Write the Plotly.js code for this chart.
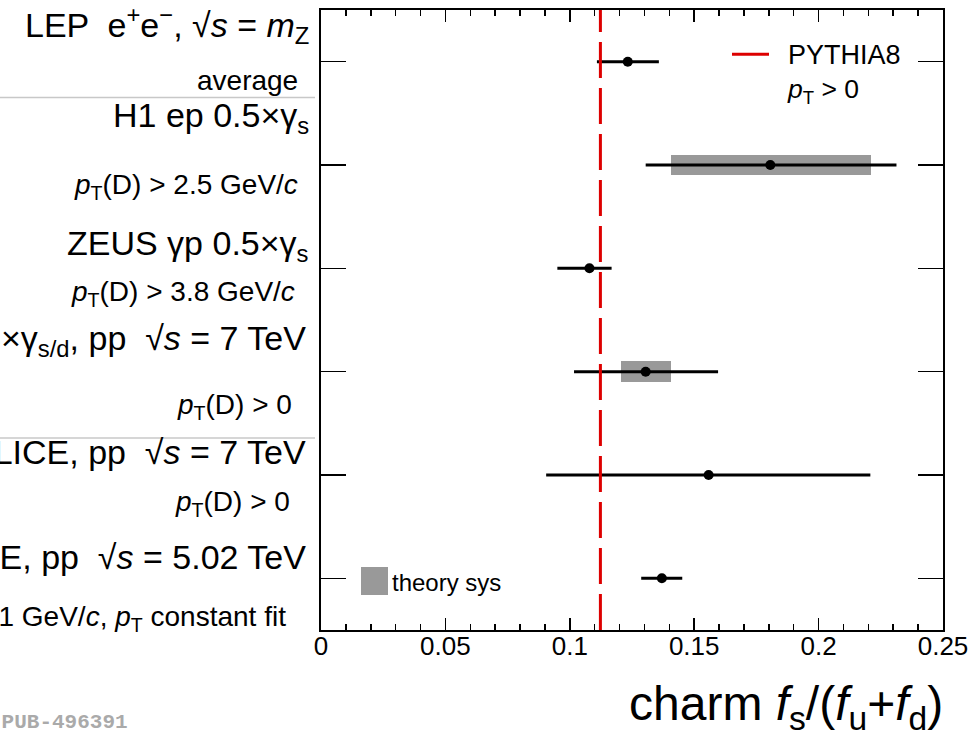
<!DOCTYPE html>
<html><head><meta charset="utf-8">
<script src="https://cdn.plot.ly/plotly-3.0.1.min.js"></script>
<style>html,body{margin:0;padding:0;background:#fff;} #chart{width:971px;height:736px;}</style>
</head><body><div id="chart"></div>
<script>
// ---- data ----
const rowLabels = [
  'LEP  e<sup>+</sup>e<sup>−</sup>, √<i>s</i> = <i>m</i><sub>Z</sub>',
  'H1 ep 0.5×γ<sub>s</sub>',
  'ZEUS γp 0.5×γ<sub>s</sub>',
  'ALICE 0.5×γ<sub>s/d</sub>, pp  √<i>s</i> = 7 TeV',
  'ALICE, pp  √<i>s</i> = 7 TeV',
  'ALICE, pp  √<i>s</i> = 5.02 TeV'
];
const rowSubLabels = [
  'average',
  '<i>p</i><sub>T</sub>(D) > 2.5 GeV/<i>c</i>',
  '<i>p</i><sub>T</sub>(D) > 3.8 GeV/<i>c</i>',
  '<i>p</i><sub>T</sub>(D) > 0',
  '<i>p</i><sub>T</sub>(D) > 0',
  '<i>p</i><sub>T</sub> > 1 GeV/<i>c</i>, <i>p</i><sub>T</sub> constant fit'
];
const rowIndex = [0, 1, 2, 3, 4, 5];
const fsValues = [0.1233, 0.1806, 0.1079, 0.1305, 0.1558, 0.1370];
const errPlus  = [0.0125, 0.0507, 0.0089, 0.0291, 0.0650, 0.0082];
const errMinus = [0.0124, 0.0501, 0.0129, 0.0288, 0.0653, 0.0083];
const theoryLow  = [null, 0.1405, null, 0.1204, null, null];
const theoryHigh = [null, 0.2212, null, 0.1408, null, null];
const pythia8 = 0.1123;
const xTickVals = [0, 0.05, 0.1, 0.15, 0.2, 0.25];
const xTickText = ['0', '0.05', '0.1', '0.15', '0.2', '0.25'];

// ---- layout helpers (pixel -> paper) ----
const L = 321, T = 10, W = 622, H = 620;
const px2x = p => (p - L) / W;
const py2y = p => (T + H - p) / H;

const FONT = 'Liberation Sans, Arial, Helvetica, sans-serif';

// theory band as horizontal bars
const sysY = [], sysBase = [], sysLen = [];
rowIndex.forEach(i => {
  if (theoryLow[i] !== null) { sysY.push(i); sysBase.push(theoryLow[i]); sysLen.push(theoryHigh[i] - theoryLow[i]); }
});

const traces = [
  {
    type: 'bar', orientation: 'h', y: sysY, x: sysLen, base: sysBase, width: 0.2,
    marker: {color: '#999999', line: {width: 0}}, hoverinfo: 'skip', showlegend: false
  },
  {
    type: 'scatter', mode: 'markers', x: fsValues, y: rowIndex,
    marker: {color: '#000', size: 10},
    error_x: {type: 'data', symmetric: false, array: errPlus, arrayminus: errMinus,
              color: '#000', thickness: 3, width: 0},
    showlegend: false
  }
];

// label positions (pixel layout)
const bigRight = [310, 310, 310, 307, 307, 307];
const bigCenter = [25, 117.3, 245, 340.7, 452.3, 557.3];
const subRight = [299, 299, 296, 293, 291, 287];
const subCenter = [81, 186.5, 294, 406.5, 503.5, 618.5];

const annotations = [];
rowIndex.forEach(i => {
  annotations.push({xref: 'paper', yref: 'paper', x: px2x(bigRight[i]), y: py2y(bigCenter[i]),
    xanchor: 'right', yanchor: 'middle', showarrow: false, text: rowLabels[i], borderpad: 0,
    font: {family: FONT, size: 34, color: '#000'}});
  annotations.push({xref: 'paper', yref: 'paper', x: px2x(subRight[i]), y: py2y(subCenter[i]),
    xanchor: 'right', yanchor: 'middle', showarrow: false, text: rowSubLabels[i], borderpad: 0,
    font: {family: FONT, size: 28, color: '#000'}});
});
annotations.push({xref: 'paper', yref: 'paper', x: px2x(786), y: py2y(54.5), xanchor: 'left', yanchor: 'middle',
  showarrow: false, text: 'PYTHIA8', font: {family: FONT, size: 27, color: '#000'}});
annotations.push({xref: 'paper', yref: 'paper', x: px2x(785), y: py2y(91), xanchor: 'left', yanchor: 'middle',
  showarrow: false, text: '<i>p</i><sub>T</sub> > 0', font: {family: FONT, size: 26.5, color: '#000'}});
annotations.push({xref: 'paper', yref: 'paper', x: px2x(390), y: py2y(582), xanchor: 'left', yanchor: 'middle',
  showarrow: false, text: 'theory sys', font: {family: FONT, size: 24, color: '#000'}});
annotations.push({xref: 'paper', yref: 'paper', x: px2x(944), y: py2y(707), xanchor: 'right', yanchor: 'middle',
  showarrow: false, text: 'charm <i>f</i><sub>s</sub>/(<i>f</i><sub>u</sub>+<i>f</i><sub>d</sub>)', borderpad: 0,
  font: {family: FONT, size: 48, color: '#000'}});
annotations.push({xref: 'paper', yref: 'paper', x: px2x(130), y: py2y(722.5), xanchor: 'right', yanchor: 'middle',
  showarrow: false, text: '<b>ALICE-PUB-496391</b>', font: {family: 'Liberation Mono, Courier New, monospace', size: 21, color: '#aaaaaa'}});

const shapes = [
  {type: 'line', xref: 'x', yref: 'paper', x0: pythia8, x1: pythia8, y0: 0, y1: 1,
   line: {color: '#dd0000', width: 3, dash: '36px,10px'}},
  {type: 'line', xref: 'paper', yref: 'paper', x0: px2x(732), x1: px2x(769), y0: py2y(54.3), y1: py2y(54.3),
   line: {color: '#dd0000', width: 3}},
  {type: 'path', xref: 'paper', yref: 'paper', fillcolor: '#999999', line: {width: 0},
   path: (function(){
     const x0 = px2x(361), x1 = px2x(388), y0 = py2y(595), y1 = py2y(567);
     return `M ${x0} ${y0} L ${x1} ${y0} L ${x1} ${y1} L ${x0} ${y1} Z`;
   })()},
  {type: 'line', xref: 'paper', yref: 'paper', x0: px2x(0), x1: px2x(315), y0: py2y(97.5), y1: py2y(97.5),
   line: {color: '#c8c8c8', width: 1.5}},
  {type: 'line', xref: 'paper', yref: 'paper', x0: px2x(0), x1: px2x(315), y0: py2y(438), y1: py2y(438),
   line: {color: '#c8c8c8', width: 1.5}}
];

const layout = {
  width: 971, height: 736,
  margin: {l: L, r: 971 - L - W, t: T, b: 736 - T - H, pad: 0},
  paper_bgcolor: '#fff', plot_bgcolor: '#fff',
  showlegend: false,
  bargap: 0,
  xaxis: {
    range: [0, 0.25], tickmode: 'array', tickvals: xTickVals, ticktext: xTickText,
    ticks: 'inside', ticklen: 12, tickwidth: 1.5, tickcolor: '#000',
    minor: {tickmode: 'linear', tick0: 0, dtick: 0.01, ticks: 'inside', ticklen: 6, tickwidth: 1.5, tickcolor: '#000', showgrid: false},
    showline: true, linecolor: '#000', linewidth: 2, mirror: 'ticks',
    showgrid: false, zeroline: false,
    tickfont: {family: FONT, size: 26, color: '#000'}, ticklabelstandoff: -8
  },
  yaxis: {
    range: [5.5, -0.5], tickmode: 'array', tickvals: rowIndex, showticklabels: false,
    ticks: 'inside', ticklen: 25, tickwidth: 1.5, tickcolor: '#000',
    showline: true, linecolor: '#000', linewidth: 2, mirror: 'ticks',
    showgrid: false, zeroline: false
  },
  shapes: shapes,
  annotations: annotations
};

Plotly.newPlot('chart', traces, layout, {displayModeBar: false, staticPlot: true});
</script>
</body></html>
